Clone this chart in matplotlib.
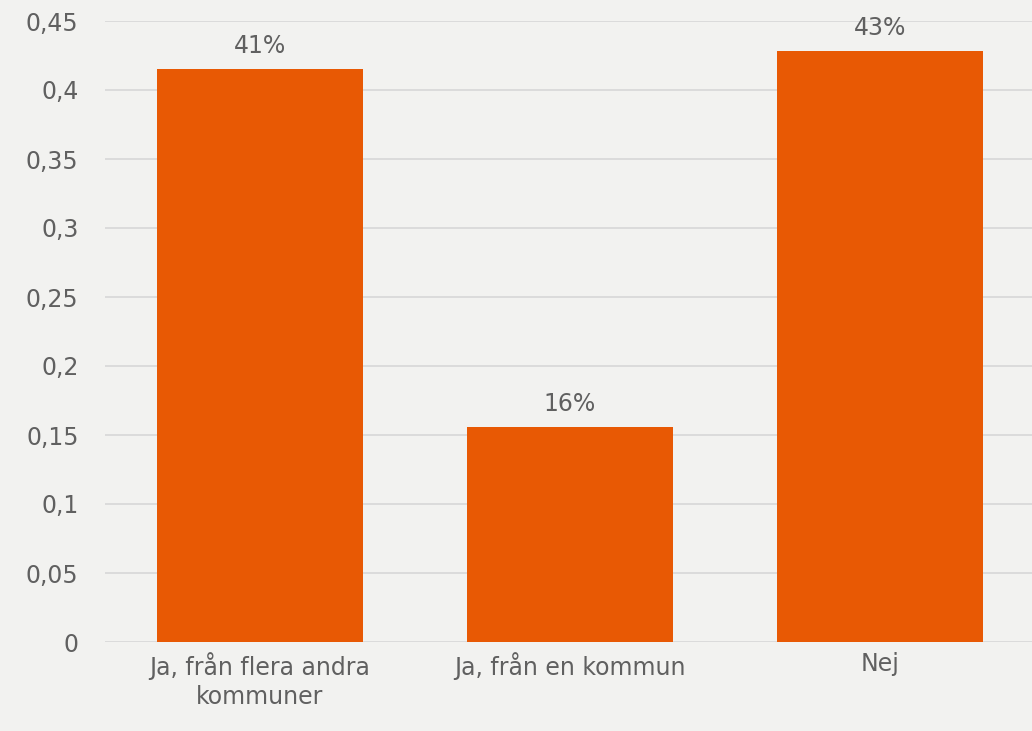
import matplotlib
matplotlib.use("Agg")
import matplotlib.pyplot as plt
from matplotlib.ticker import FuncFormatter

categories = ["Ja, från flera andra\nkommuner", "Ja, från en kommun", "Nej"]
values = [0.415, 0.156, 0.428]
labels = ["41%", "16%", "43%"]
yticks = [0, 0.05, 0.1, 0.15, 0.2, 0.25, 0.3, 0.35, 0.4, 0.45]

bg = "#f2f2f0"
bar_color = "#e85904"
text_color = "#606060"
fs = 17

fig = plt.figure(figsize=(10.32, 7.31), dpi=100, facecolor=bg)
ax = fig.add_axes([105/1032, 89/731, 930/1032, 621/731], facecolor=bg)

x = range(len(categories))
ax.bar(x, values, width=0.665, color=bar_color, zorder=3)
for xi, v, lab in zip(x, values, labels):
    ax.annotate(lab, (xi, v), xytext=(0, 8), textcoords="offset points",
                ha="center", va="bottom", fontsize=fs, color=text_color)

ax.set_xlim(-0.5, 2.5)
ax.set_ylim(0, 0.45)
ax.set_yticks(yticks)
ax.yaxis.set_major_formatter(FuncFormatter(lambda v, p: ("%g" % round(v, 2)).replace(".", ",")))
ax.set_xticks(list(x))
ax.set_xticklabels(categories, fontsize=fs, color=text_color, linespacing=1.3)
ax.tick_params(axis="y", labelsize=fs, labelcolor=text_color, length=0, pad=19)
ax.tick_params(axis="x", length=0, pad=7)
ax.grid(axis="y", color="#d9d9d9", linewidth=1.3, zorder=0)
for s in ax.spines.values():
    s.set_visible(False)

fig.savefig("out.png", dpi=100, facecolor=bg)
